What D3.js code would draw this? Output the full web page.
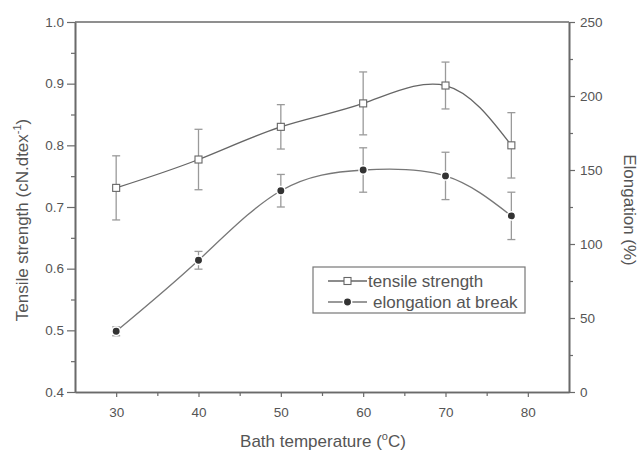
<!DOCTYPE html>
<html>
<head>
<meta charset="utf-8">
<script src="https://cdn.jsdelivr.net/npm/d3@7"></script>
<style>
  body { margin: 0; background: #fff; }
  text { font-family: "Liberation Sans", Arial, sans-serif; fill: #555; }
</style>
</head>
<body>
<svg id="chart" width="638" height="451"></svg>
<script>
// data
var temps = [30, 40, 50, 60, 70, 78];
var tensile = [0.731, 0.777, 0.830, 0.868, 0.897, 0.800];
var tensileErr = [0.052, 0.049, 0.036, 0.051, 0.038, 0.053];
var elong = [41, 89, 136, 150, 146, 119];
var elongErr = [3, 6, 11, 15, 16, 16];

var xTicks = [30, 40, 50, 60, 70, 80];
var leftTicks = [0.4, 0.5, 0.6, 0.7, 0.8, 0.9, 1.0];
var rightTicks = [0, 50, 100, 150, 200, 250];

var svg = d3.select('#chart');
var pLeft = 75, pRight = 569, pTop = 22, pBottom = 392;

var x = d3.scaleLinear().domain([25, 85]).range([pLeft, pRight]);
var yL = d3.scaleLinear().domain([0.4, 1.0]).range([pBottom, pTop]);
var yR = d3.scaleLinear().domain([0, 250]).range([pBottom, pTop]);

var axisColor = '#6a6a6a';

// frame top line
svg.append('line')
  .attr('x1', pLeft).attr('x2', pRight).attr('y1', pTop).attr('y2', pTop)
  .attr('stroke', axisColor).attr('stroke-width', 1.6);

function styleAxis(g) {
  g.select('.domain').attr('stroke', axisColor).attr('stroke-width', 1.6);
  g.selectAll('.tick line').attr('stroke', axisColor).attr('stroke-width', 1.2);
  g.selectAll('.tick text').attr('fill', '#555').style('font-size', '13.5px')
    .style('font-family', '"Liberation Sans", Arial, sans-serif');
}

// minor ticks
var xMinor = d3.range(35, 85, 10);
svg.append('g').attr('transform', 'translate(0,' + pBottom + ')')
  .call(d3.axisBottom(x).tickValues(xMinor).tickSize(4).tickSizeOuter(0).tickFormat(''))
  .call(styleAxis);
svg.append('g').attr('transform', 'translate(' + pLeft + ',0)')
  .call(d3.axisLeft(yL).tickValues(d3.range(0.45, 1.0, 0.1)).tickSize(4).tickSizeOuter(0).tickFormat(''))
  .call(styleAxis);
svg.append('g').attr('transform', 'translate(' + pRight + ',0)')
  .call(d3.axisRight(yR).tickValues(d3.range(25, 250, 50)).tickSize(4).tickSizeOuter(0).tickFormat(''))
  .call(styleAxis);

svg.append('g').attr('transform', 'translate(0,' + pBottom + ')')
  .call(d3.axisBottom(x).tickValues(xTicks).tickSize(5).tickPadding(10).tickSizeOuter(0))
  .call(styleAxis);
svg.append('g').attr('transform', 'translate(' + pLeft + ',0)')
  .call(d3.axisLeft(yL).tickValues(leftTicks).tickSize(8).tickPadding(3).tickSizeOuter(0)
    .tickFormat(d3.format('.1f')))
  .call(styleAxis);
svg.append('g').attr('transform', 'translate(' + pRight + ',0)')
  .call(d3.axisRight(yR).tickValues(rightTicks).tickSize(6).tickPadding(5).tickSizeOuter(0))
  .call(styleAxis);

// axis titles
var lt = svg.append('text')
  .attr('transform', 'translate(28,220) rotate(-90)')
  .attr('text-anchor', 'middle').style('font-size', '17px');
lt.append('tspan').text('Tensile strength (cN.dtex');
lt.append('tspan').attr('dy', -7).style('font-size', '11px').text('-1');
lt.append('tspan').attr('dy', 7).text(')');

svg.append('text')
  .attr('transform', 'translate(624,210) rotate(90)')
  .attr('text-anchor', 'middle').style('font-size', '17px')
  .text('Elongation (%)');

var bt = svg.append('text')
  .attr('x', 323).attr('y', 447)
  .attr('text-anchor', 'middle').style('font-size', '17px');
bt.append('tspan').text('Bath temperature (');
bt.append('tspan').attr('dy', -7).style('font-size', '11px').text('o');
bt.append('tspan').attr('dy', 7).text('C)');

var tsData = temps.map(function (t, i) { return { x: t, y: tensile[i], e: tensileErr[i] }; });
var elData = temps.map(function (t, i) { return { x: t, y: elong[i], e: elongErr[i] }; });

function drawErr(data, ys) {
  var g = svg.append('g').attr('stroke', '#9a9a9a').attr('stroke-width', 1.3);
  data.forEach(function (d) {
    var cx = x(d.x), y1 = ys(d.y + d.e), y2 = ys(d.y - d.e);
    g.append('line').attr('x1', cx).attr('x2', cx).attr('y1', y1).attr('y2', y2);
    g.append('line').attr('x1', cx - 4).attr('x2', cx + 4).attr('y1', y1).attr('y2', y1);
    g.append('line').attr('x1', cx - 4).attr('x2', cx + 4).attr('y1', y2).attr('y2', y2);
  });
}
drawErr(tsData, yL);
drawErr(elData, yR);

var lineL = d3.line().x(function (d) { return x(d.x); }).y(function (d) { return yL(d.y); })
  .curve(d3.curveNatural);
var lineR = d3.line().x(function (d) { return x(d.x); }).y(function (d) { return yR(d.y); })
  .curve(d3.curveNatural);

svg.append('path').datum(tsData).attr('d', lineL)
  .attr('fill', 'none').attr('stroke', '#666').attr('stroke-width', 1.3);
svg.append('path').datum(elData).attr('d', lineR)
  .attr('fill', 'none').attr('stroke', '#777').attr('stroke-width', 1.3);

// markers
svg.selectAll('.sq').data(tsData).enter().append('rect')
  .attr('x', function (d) { return x(d.x) - 3.5; })
  .attr('y', function (d) { return yL(d.y) - 3.5; })
  .attr('width', 7).attr('height', 7)
  .attr('fill', '#fff').attr('stroke', '#666').attr('stroke-width', 1.1);

svg.selectAll('.dot').data(elData).enter().append('circle')
  .attr('cx', function (d) { return x(d.x); })
  .attr('cy', function (d) { return yR(d.y); })
  .attr('r', 4.2)
  .attr('fill', '#333').attr('stroke', '#fff').attr('stroke-width', 1.5);

// legend
var lg = svg.append('g');
lg.append('rect').attr('x', 313).attr('y', 267).attr('width', 212).attr('height', 46)
  .attr('fill', '#fff').attr('stroke', '#777').attr('stroke-width', 1.2);
lg.append('line').attr('x1', 328).attr('x2', 367).attr('y1', 281).attr('y2', 281)
  .attr('stroke', '#666').attr('stroke-width', 1.3);
lg.append('rect').attr('x', 344).attr('y', 277.5).attr('width', 7).attr('height', 7)
  .attr('fill', '#fff').attr('stroke', '#666').attr('stroke-width', 1.1);
lg.append('text').attr('x', 368).attr('y', 287).style('font-size', '17px').text('tensile strength');
lg.append('line').attr('x1', 328).attr('x2', 367).attr('y1', 302).attr('y2', 302)
  .attr('stroke', '#777').attr('stroke-width', 1.3);
lg.append('circle').attr('cx', 347.5).attr('cy', 302).attr('r', 4.2)
  .attr('fill', '#333').attr('stroke', '#fff').attr('stroke-width', 1.5);
lg.append('text').attr('x', 373).attr('y', 308).style('font-size', '17px').text('elongation at break');
</script>
</body>
</html>
